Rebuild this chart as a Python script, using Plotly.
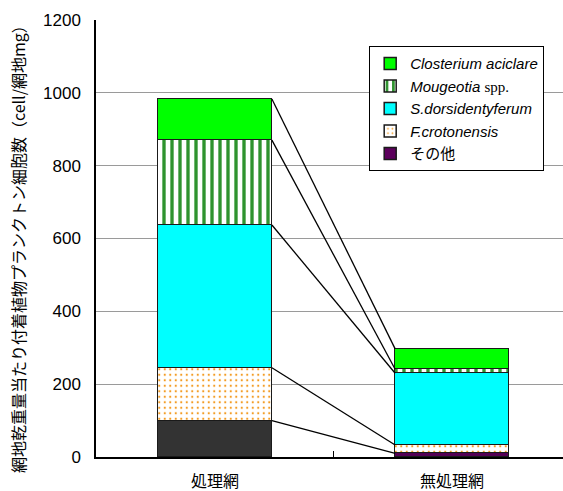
import numpy as np
import plotly.graph_objects as go

# Categories (net treatment) and cell counts per taxon (cells / mg dry net)
categories = ["処理網", "無処理網"]
others = [100, 10]
f_crotonensis = [145, 23]
s_dorsidentyferum = [392, 197]
mougeotia = [233, 11]
closterium = [113, 56]

y_ticks = [0, 200, 400, 600, 800, 1000, 1200]

x_pos = [0, 1]
bar_w = 0.48
edge = dict(color="#1a1a1a", width=1.5)

fig = go.Figure()

# Stacked bars, bottom to top
fig.add_trace(go.Bar(
    x=x_pos, y=others, width=bar_w, name="その他", showlegend=False,
    marker=dict(color=["#333333", "#550055"], line=edge),
))
# legend entry for the "other" group
fig.add_trace(go.Bar(
    x=[None], y=[None], name="その他",
    marker=dict(color="#5c005c", line=edge),
))
fig.add_trace(go.Bar(
    x=x_pos, y=f_crotonensis, width=bar_w, name="<i>F.crotonensis</i>",
    marker=dict(color="white", line=edge,
                pattern=dict(shape=".", fgcolor="#f39a1e", bgcolor="white",
                             fgopacity=1, size=5.5, solidity=0.12)),
))
fig.add_trace(go.Bar(
    x=x_pos, y=s_dorsidentyferum, width=bar_w, name="<i>S.dorsidentyferum</i>",
    marker=dict(color="#00ffff", line=edge),
))
fig.add_trace(go.Bar(
    x=x_pos, y=mougeotia, width=bar_w,
    name="<i>Mougeotia</i> <span style='font-family:Liberation Serif'>spp.</span>",
    marker=dict(color="white", line=edge,
                pattern=dict(shape="|", fgcolor="#2f932f", bgcolor="white",
                             fgopacity=1, size=8, solidity=0.42)),
))
fig.add_trace(go.Bar(
    x=x_pos, y=closterium, width=bar_w, name="<i>Closterium aciclare</i>",
    marker=dict(color="#00ff00", line=edge),
))

# Connector lines joining matching segment tops of the two bars
stack = np.cumsum(np.array([others, f_crotonensis, s_dorsidentyferum,
                            mougeotia, closterium]), axis=0)
for level in stack:
    fig.add_trace(go.Scatter(
        x=[x_pos[0] + bar_w / 2, x_pos[1] - bar_w / 2],
        y=[level[0], level[1]],
        mode="lines", line=dict(color="black", width=1.3),
        showlegend=False, hoverinfo="skip",
    ))

fig.update_layout(
    width=563, height=491,
    margin=dict(l=96, r=0, t=20, b=34),
    barmode="stack", bargap=0,
    plot_bgcolor="white", paper_bgcolor="white",
    font=dict(family="Liberation Sans, Noto Sans CJK JP", color="black"),
    legend=dict(
        traceorder="reversed",
        x=0.585, y=0.94, xanchor="left", yanchor="top",
        bordercolor="black", borderwidth=1, bgcolor="white",
        font=dict(size=15, family="Liberation Sans, Noto Sans CJK JP"),
    ),
    xaxis=dict(
        range=[-0.502, 1.468], automargin=False,
        tickvals=x_pos, ticktext=categories, ticks="",
        tickfont=dict(size=16, family="Noto Sans CJK JP"),
        ticklabelstandoff=9,
        showline=True, linecolor="black", linewidth=1.5,
        showgrid=False, zeroline=False,
        minor=dict(tickvals=[0.5], ticks="inside", ticklen=6,
                   tickcolor="black", tickwidth=1, showgrid=False),
    ),
    yaxis=dict(
        range=[0, 1200], tickvals=y_ticks, automargin=False,
        tickfont=dict(size=17, family="Liberation Sans"),
        showline=True, linecolor="black", linewidth=1.5,
        showgrid=True, gridcolor="#9a9a9a", gridwidth=1,
        zeroline=False, ticks="", ticklabelstandoff=10,
    ),
    annotations=[dict(
        text="網地乾重量当たり付着植物プランクトン細胞数（cell/網地mg）",
        textangle=-90, xref="paper", yref="paper",
        x=-0.167, y=0.485, xanchor="center", yanchor="middle",
        showarrow=False, font=dict(size=16, family="Noto Sans CJK JP"),
    )],
)

fig.write_html("out.html")
